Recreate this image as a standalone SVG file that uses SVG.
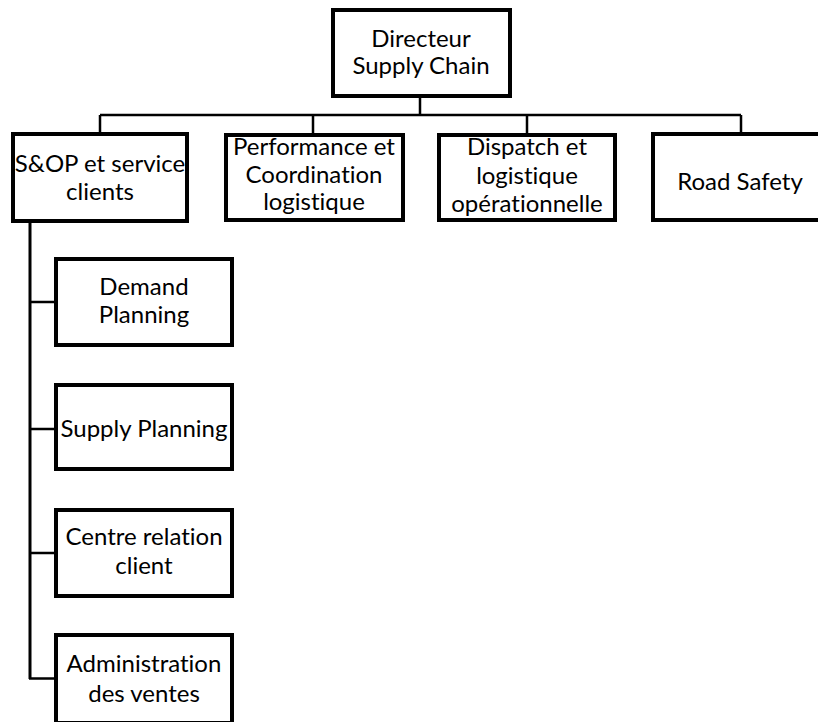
<svg xmlns="http://www.w3.org/2000/svg" width="818" height="722" viewBox="0 0 818 722">
<style>
.box{fill:#fff;stroke:#000;stroke-width:4}
.t{font-family:Lato,"Liberation Sans",Arial,sans-serif;font-size:24px;fill:#000;text-anchor:middle;font-variant-ligatures:none;font-feature-settings:"liga" 0}
.c{fill:none;stroke:#000;stroke-width:2.5}
</style>
<rect width="818" height="722" fill="#fff"/>
<g id="connectors">
<path class="c" d="M420 97V115M100 115H741M100 115V133M313 115V134M527 115V134M741 115V133"/>
<path class="c" style="stroke-width:3" d="M30 222V679"/>
<path class="c" d="M29 302H55M29 429H55M29 553H55M29 678.5H55"/>
</g>
<g id="n-directeur"><rect class="box" x="333" y="10" width="177" height="86"/>
<text class="t" x="421" y="47">Directeur</text><text class="t" x="421" y="74">Supply Chain</text></g>
<g id="n-sop"><rect class="box" x="13" y="134" width="174" height="87"/>
<text class="t" x="100" y="172">S&amp;OP et service</text><text class="t" x="100" y="200">clients</text></g>
<g id="n-perf"><rect class="box" x="226" y="135" width="177" height="85"/>
<text class="t" x="314" y="155">Performance et</text><text class="t" x="314" y="183">Coordination</text><text class="t" x="314" y="210">logistique</text></g>
<g id="n-dispatch"><rect class="box" x="439" y="135" width="176" height="85"/>
<text class="t" x="527" y="155">Dispatch et</text><text class="t" x="527" y="184">logistique</text><text class="t" x="527" y="212">opérationnelle</text></g>
<g id="n-road"><rect class="box" x="653" y="134" width="176" height="86"/>
<text class="t" x="740" y="190">Road Safety</text></g>
<g id="n-demand"><rect class="box" x="56" y="259" width="176" height="86"/>
<text class="t" x="144" y="295">Demand</text><text class="t" x="144" y="323">Planning</text></g>
<g id="n-supply"><rect class="box" x="56" y="385" width="176" height="84"/>
<text class="t" x="144" y="437">Supply Planning</text></g>
<g id="n-centre"><rect class="box" x="56" y="510" width="176" height="86"/>
<text class="t" x="144" y="545">Centre relation</text><text class="t" x="144" y="574">client</text></g>
<g id="n-admin"><rect class="box" x="56" y="635" width="176" height="88"/>
<text class="t" x="144" y="672">Administration</text><text class="t" x="144" y="702">des ventes</text></g>
</svg>
